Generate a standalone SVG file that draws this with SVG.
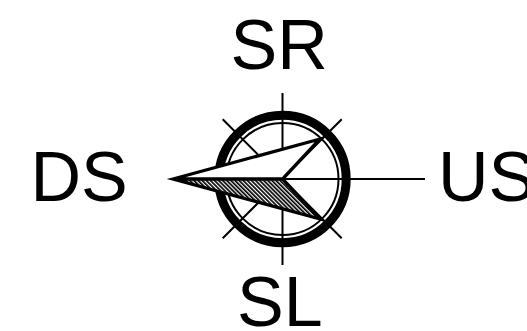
<svg xmlns="http://www.w3.org/2000/svg" width="527" height="331" viewBox="0 0 527 331">
<defs>
<pattern id="hatch" patternUnits="userSpaceOnUse" width="2.9" height="4" patternTransform="rotate(-45)">
<rect width="2.9" height="4" fill="#fff"/><rect width="1.7" height="4" fill="#000"/>
</pattern>
</defs>
<style>
.t{font-family:"Liberation Sans",Arial,sans-serif;font-size:70px;fill:#000;text-anchor:start}
.l{stroke:#000;stroke-width:2;fill:none}
</style>
<rect width="527" height="331" fill="#fff"/>
<g id="connectors">
<path class="l" d="M282.5 93V265M282.5 179H425M222.7 119.3L341.7 238.3M341.7 119.3L222.7 238.3"/>
</g>
<g id="compass">
<circle cx="282.5" cy="179" r="63.7" fill="none" stroke="#000" stroke-width="9"/>
<circle cx="282.5" cy="179" r="56" fill="none" stroke="#000" stroke-width="2"/>
<path d="M173 179L320 139L282.5 179Z" fill="#fff"/>
<path d="M173 179L320 219L282.5 179Z" fill="url(#hatch)"/>
<path d="M173 179L320 139L282.5 179L320 219ZM173 179H282.5" fill="none" stroke="#000" stroke-width="3.3" stroke-miterlimit="8"/>
</g>
<g id="SR"><text class="t" x="230.5" y="69">SR</text></g>
<g id="DS"><text class="t" x="30.4" y="200.5">DS</text></g>
<g id="US"><text class="t" x="438" y="200.5">US</text></g>
<g id="SL"><text class="t" x="237" y="325.5">SL</text></g>
</svg>
